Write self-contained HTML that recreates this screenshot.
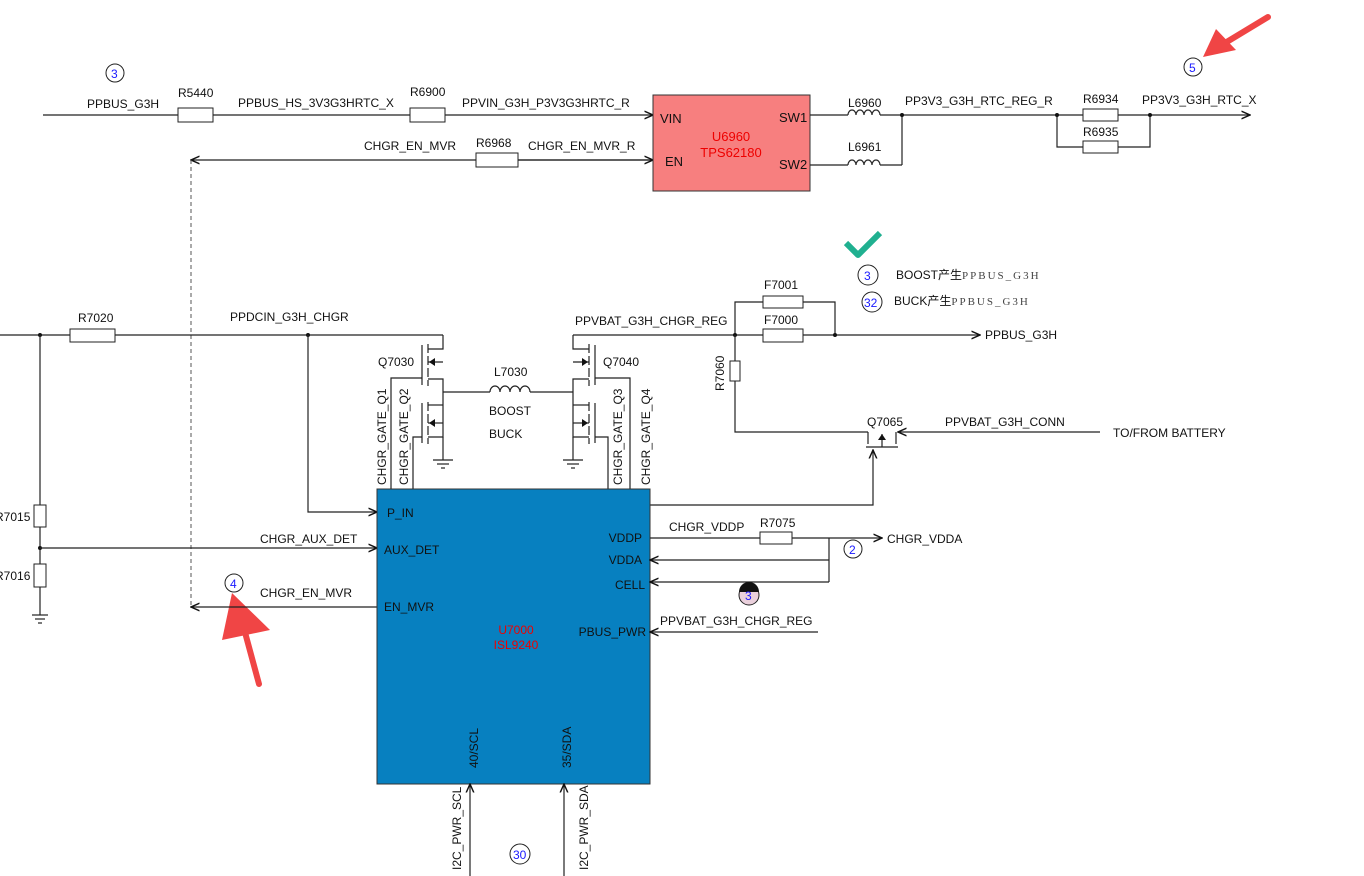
<!DOCTYPE html>
<html><head><meta charset="utf-8"><style>
html,body{margin:0;padding:0;background:#fff;}
svg{display:block;font-family:"Liberation Sans","Noto Sans CJK SC",sans-serif;}
text{font-size:12px;fill:#111;}
.b{fill:none;stroke:#222;stroke-width:1.2;}
.r{fill:#fff;stroke:#222;stroke-width:1;}
.c{fill:#fff;stroke:#222;stroke-width:1;}
.n{fill:#1a1aff;font-size:12px;}
</style></head><body>
<svg width="1364" height="876" viewBox="0 0 1364 876" xmlns="http://www.w3.org/2000/svg">
<defs>
<marker id="a" viewBox="0 0 10 10" refX="9" refY="5" markerWidth="8" markerHeight="8" orient="auto-start-reverse"><path d="M0,1 L9,5 L0,9" fill="none" stroke="#111" stroke-width="1.5"/></marker>
</defs>
<!-- top row -->
<line class="b" x1="43" y1="115" x2="653" y2="115" marker-end="url(#a)"/>
<rect class="r" x="178" y="108" width="35" height="14"/>
<rect class="r" x="410" y="108" width="35" height="14"/>
<text x="87" y="108">PPBUS_G3H</text>
<text x="178" y="97">R5440</text>
<text x="238" y="107">PPBUS_HS_3V3G3HRTC_X</text>
<text x="410" y="96">R6900</text>
<text x="462" y="107">PPVIN_G3H_P3V3G3HRTC_R</text>
<circle class="c" cx="115" cy="73" r="9"/><text class="n" x="111" y="78">3</text>
<!-- EN line -->
<line class="b" x1="653" y1="160" x2="191" y2="160" marker-end="url(#a)"/>
<line class="b" x1="476" y1="160" x2="653" y2="160" marker-end="url(#a)"/>
<rect class="r" x="476" y="153" width="42" height="14"/>
<text x="364" y="150">CHGR_EN_MVR</text>
<text x="476" y="147">R6968</text>
<text x="528" y="150">CHGR_EN_MVR_R</text>
<line x1="191" y1="160" x2="191" y2="607" stroke="#555" stroke-width="1" stroke-dasharray="4,3"/>
<!-- U6960 -->
<rect x="653" y="95" width="157" height="96" fill="#f77f7f" stroke="#333" stroke-width="1"/>
<text x="660" y="123" style="font-size:13px">VIN</text>
<text x="665" y="166" style="font-size:13px">EN</text>
<text x="779" y="122" style="font-size:13px">SW1</text>
<text x="779" y="169" style="font-size:13px">SW2</text>
<text x="731" y="141" text-anchor="middle" style="fill:#e00;font-size:13px">U6960</text>
<text x="731" y="157" text-anchor="middle" style="fill:#e00;font-size:13px">TPS62180</text>
<line class="b" x1="810" y1="115" x2="848" y2="115"/>
<line class="b" x1="810" y1="165" x2="848" y2="165"/>
<path class="b" d="M848,115 a4,5 0 0 1 8,0 a4,5 0 0 1 8,0 a4,5 0 0 1 8,0 a4,5 0 0 1 8,0"/>
<path class="b" d="M848,165 a4,5 0 0 1 8,0 a4,5 0 0 1 8,0 a4,5 0 0 1 8,0 a4,5 0 0 1 8,0"/>
<text x="848" y="107">L6960</text><text x="848" y="151">L6961</text>
<line class="b" x1="880" y1="165" x2="902" y2="165"/><line class="b" x1="902" y1="165" x2="902" y2="115"/>
<line class="b" x1="880" y1="115" x2="1250" y2="115" marker-end="url(#a)"/>
<circle cx="902" cy="115" r="2" fill="#111"/>
<text x="905" y="105">PP3V3_G3H_RTC_REG_R</text>
<path class="b" d="M1057,115 V147 H1150 V115"/>
<rect class="r" x="1083" y="109" width="35" height="12"/>
<rect class="r" x="1083" y="141" width="35" height="12"/>
<circle cx="1057" cy="115" r="2" fill="#111"/><circle cx="1150" cy="115" r="2" fill="#111"/>
<text x="1083" y="103">R6934</text><text x="1083" y="136">R6935</text>
<text x="1142" y="104">PP3V3_G3H_RTC_X</text>
<circle class="c" cx="1193" cy="67" r="9"/><text class="n" x="1189" y="72">5</text>
<!-- red arrows -->
<line x1="1268" y1="17" x2="1225" y2="43" stroke="#f04545" stroke-width="6" stroke-linecap="round"/>
<polygon points="1203,57 1216,29 1236,50" fill="#f04545"/>
<line x1="259" y1="684" x2="243" y2="625" stroke="#f04545" stroke-width="6" stroke-linecap="round"/>
<polygon points="232,593 222,640 270,630" fill="#f04545"/>
<!-- left input -->
<line class="b" x1="0" y1="335" x2="443" y2="335"/>
<rect class="r" x="70" y="329" width="45" height="13"/>
<circle cx="40" cy="335" r="2" fill="#111"/><circle cx="308" cy="335" r="2" fill="#111"/>
<text x="78" y="322">R7020</text><text x="230" y="321">PPDCIN_G3H_CHGR</text>
<path class="b" d="M308,335 V512 H377" marker-end="url(#a)"/>
<line class="b" x1="40" y1="335" x2="40" y2="615"/>
<rect class="r" x="34" y="505" width="12" height="22"/>
<rect class="r" x="34" y="564" width="12" height="23"/>
<circle cx="40" cy="548" r="2" fill="#111"/>
<line class="b" x1="32" y1="615" x2="48" y2="615"/><line class="b" x1="35" y1="619" x2="45" y2="619"/><line class="b" x1="38" y1="623" x2="42" y2="623"/>
<text x="-5" y="521">R7015</text><text x="-5" y="580">R7016</text>
<line class="b" x1="40" y1="548" x2="377" y2="548" marker-end="url(#a)"/>
<text x="260" y="543">CHGR_AUX_DET</text>
<line class="b" x1="377" y1="607" x2="191" y2="607" marker-end="url(#a)"/>
<text x="260" y="597">CHGR_EN_MVR</text>
<circle class="c" cx="234" cy="583" r="9"/><text class="n" x="230" y="588">4</text>
<!-- gate lines -->
<path class="b" d="M391,489 V378 H422"/>
<path class="b" d="M413,489 V437 H422"/>
<path class="b" d="M608,489 V437 H595"/>
<path class="b" d="M630,489 V378 H595"/>
<text transform="translate(386,485) rotate(-90)">CHGR_GATE_Q1</text>
<text transform="translate(408,485) rotate(-90)">CHGR_GATE_Q2</text>
<text transform="translate(622,485) rotate(-90)">CHGR_GATE_Q3</text>
<text transform="translate(650,485) rotate(-90)">CHGR_GATE_Q4</text>
<!-- Q7030 -->
<path class="b" d="M443,335 V349 H428"/>
<line class="b" x1="422" y1="345" x2="422" y2="385"/>
<line class="b" x1="428" y1="344" x2="428" y2="386" stroke-dasharray="9,3"/>
<path class="b" d="M428,362 H443 M428,379 H443 V437 H428"/>
<path class="b" d="M428,405 H443"/>
<line class="b" x1="422" y1="403" x2="422" y2="443"/>
<line class="b" x1="428" y1="402" x2="428" y2="444" stroke-dasharray="9,3"/>
<path class="b" d="M428,423 H443"/>
<polygon points="429,362 435,358 435,366" fill="#111"/><polygon points="429,423 435,419 435,427" fill="#111"/>
<path class="b" d="M443,437 V460"/>
<line class="b" x1="433" y1="460" x2="453" y2="460"/><line class="b" x1="437" y1="464" x2="449" y2="464"/><line class="b" x1="441" y1="468" x2="445" y2="468"/>
<text x="378" y="366">Q7030</text>
<line class="b" x1="443" y1="392" x2="490" y2="392"/>
<path class="b" d="M490,392 a5,6 0 0 1 10,0 a5,6 0 0 1 10,0 a5,6 0 0 1 10,0 a5,6 0 0 1 10,0"/>
<line class="b" x1="530" y1="392" x2="573" y2="392"/>
<text x="494" y="376">L7030</text><text x="489" y="415">BOOST</text><text x="489" y="438">BUCK</text>
<!-- Q7040 -->
<path class="b" d="M573,335 V349 H589"/>
<line class="b" x1="595" y1="345" x2="595" y2="385"/>
<line class="b" x1="589" y1="344" x2="589" y2="386" stroke-dasharray="9,3"/>
<path class="b" d="M589,362 H573 M589,379 H573 V437 H589"/>
<path class="b" d="M589,405 H573"/>
<line class="b" x1="595" y1="403" x2="595" y2="443"/>
<line class="b" x1="589" y1="402" x2="589" y2="444" stroke-dasharray="9,3"/>
<path class="b" d="M589,423 H573"/>
<polygon points="588,362 582,358 582,366" fill="#111"/><polygon points="588,423 582,419 582,427" fill="#111"/>
<path class="b" d="M573,437 V460"/>
<line class="b" x1="563" y1="460" x2="583" y2="460"/><line class="b" x1="567" y1="464" x2="579" y2="464"/><line class="b" x1="571" y1="468" x2="575" y2="468"/>
<text x="603" y="366">Q7040</text>
<!-- PPVBAT -->
<line class="b" x1="573" y1="335" x2="980" y2="335" marker-end="url(#a)"/>
<text x="575" y="325">PPVBAT_G3H_CHGR_REG</text>
<path class="b" d="M735,335 V302 H835 V335"/>
<rect class="r" x="763" y="296" width="40" height="12"/>
<rect class="r" x="763" y="329" width="40" height="13"/>
<circle cx="735" cy="335" r="2" fill="#111"/><circle cx="835" cy="335" r="2" fill="#111"/>
<text x="764" y="289">F7001</text><text x="764" y="324">F7000</text>
<text x="985" y="339">PPBUS_G3H</text>
<path class="b" d="M735,335 V432 H868"/>
<rect class="r" x="730" y="361" width="10" height="20"/>
<text transform="translate(724,391) rotate(-90)">R7060</text>
<!-- Q7065 -->
<path class="b" d="M868,432 V444 M866,447 H898 M896,432 V444 M882,447 V434"/>
<polygon points="882,434 878,440 886,440" fill="#111"/>
<line class="b" x1="1100" y1="432" x2="898" y2="432" marker-end="url(#a)"/>
<text x="867" y="426">Q7065</text>
<text x="945" y="426">PPVBAT_G3H_CONN</text>
<text x="1113" y="437">TO/FROM BATTERY</text>
<path class="b" d="M650,505 H873 V450" marker-end="url(#a)"/>
<!-- check & notes -->
<path d="M846,243 L858,255 L880,233" fill="none" stroke="#20b090" stroke-width="6" stroke-linejoin="round"/>
<circle class="c" cx="868" cy="275" r="10"/><text class="n" x="864" y="280">3</text>
<circle class="c" cx="872" cy="302" r="10"/><text class="n" x="864" y="307">32</text>
<text x="896" y="279">BOOST产生<tspan style="font-family:'Liberation Serif',serif;letter-spacing:2px;fill:#444;font-size:11px">PPBUS_G3H</tspan></text>
<text x="894" y="305">BUCK产生<tspan style="font-family:'Liberation Serif',serif;letter-spacing:2px;fill:#444;font-size:11px">PPBUS_G3H</tspan></text>
<!-- U7000 -->
<rect x="377" y="489" width="273" height="295" fill="#0780c0" stroke="#333" stroke-width="1"/>
<text x="387" y="517">P_IN</text>
<text x="384" y="554">AUX_DET</text>
<text x="384" y="611">EN_MVR</text>
<text x="642" y="542" text-anchor="end">VDDP</text>
<text x="642" y="564" text-anchor="end">VDDA</text>
<text x="645" y="589" text-anchor="end">CELL</text>
<text x="646" y="636" text-anchor="end">PBUS_PWR</text>
<text x="516" y="634" text-anchor="middle" style="fill:#e00">U7000</text>
<text x="516" y="649" text-anchor="middle" style="fill:#e00">ISL9240</text>
<text transform="translate(478,768) rotate(-90)">40/SCL</text>
<text transform="translate(571,768) rotate(-90)">35/SDA</text>
<line class="b" x1="470" y1="876" x2="470" y2="784" marker-end="url(#a)"/>
<line class="b" x1="564" y1="876" x2="564" y2="784" marker-end="url(#a)"/>
<text transform="translate(461,870) rotate(-90)">I2C_PWR_SCL</text>
<text transform="translate(588,870) rotate(-90)">I2C_PWR_SDA</text>
<circle class="c" cx="520" cy="854" r="10"/><text class="n" x="513" y="859">30</text>
<!-- right of chip -->
<line class="b" x1="650" y1="538" x2="882" y2="538" marker-end="url(#a)"/>
<rect class="r" x="760" y="532" width="32" height="12"/>
<text x="669" y="531">CHGR_VDDP</text><text x="760" y="527">R7075</text>
<path class="b" d="M829,538 V582"/>
<line class="b" x1="829" y1="560" x2="650" y2="560" marker-end="url(#a)"/>
<line class="b" x1="829" y1="582" x2="650" y2="582" marker-end="url(#a)"/>
<circle class="c" cx="853" cy="549" r="9"/><text class="n" x="849" y="554">2</text>
<text x="887" y="543">CHGR_VDDA</text>
<circle cx="749" cy="595" r="10" fill="#ead0dc" stroke="#222"/><path d="M739,592 A10,10 0 0 1 759,592 Z" fill="#111"/><text class="n" x="745" y="600">3</text>
<line class="b" x1="818" y1="632" x2="650" y2="632" marker-end="url(#a)"/>
<text x="660" y="625">PPVBAT_G3H_CHGR_REG</text>
</svg>
</body></html>
